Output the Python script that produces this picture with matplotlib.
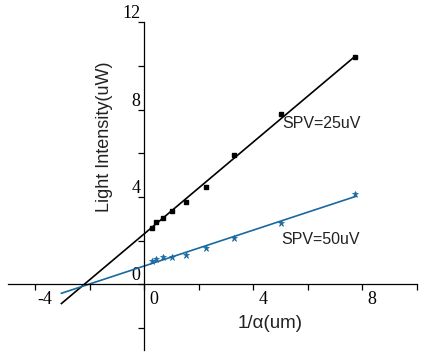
import numpy as np
import matplotlib.pyplot as plt
import matplotlib.transforms as mtransforms

plt.rcParams['axes.unicode_minus'] = False

# data
inv_alpha = [0.28, 0.44, 0.71, 1.04, 1.53, 2.26, 3.31, 5.02, 7.74]
light_25 = [2.56, 2.85, 3.05, 3.35, 3.75, 4.44, 5.92, 7.79, 10.42]
light_50 = [1.07, 1.14, 1.23, 1.23, 1.36, 1.66, 2.13, 2.79, 4.13]

# fitted lines (endpoints)
fit_x = [-3.03, 7.76]
fit_25 = [-0.88, 10.45]
fit_50 = [-0.41, 4.02]

xticks = [-4, -2, 0, 2, 4, 6, 8, 10]
xtick_labels = ['-4', '', '0', '', '4', '', '8', '']
yticks = [-2, 0, 2, 4, 6, 8, 10, 12]
ytick_labels = ['', '0', '', '4', '', '8', '', '12']

blue = '#19699f'

fig = plt.figure(figsize=(4.26, 3.55), dpi=100)
ax = fig.add_axes([0.0182, 0.0145, 0.9595, 0.9232])

ax.plot(fit_x, fit_25, color='black', lw=1.2)
ax.plot(inv_alpha, light_25, 's', color='black', ms=3.5)
ax.plot(fit_x, fit_50, color=blue, lw=1.2)
ax.plot(inv_alpha, light_50, '*', color=blue, ms=4.5, mew=0.5)

ax.set_xlim(-5, 10)
ax.set_ylim(-3, 12)

ax.spines['left'].set_position(('data', 0))
ax.spines['bottom'].set_position(('data', 0))
ax.spines['top'].set_visible(False)
ax.spines['right'].set_visible(False)
ax.spines['left'].set_linewidth(0.9)
ax.spines['bottom'].set_linewidth(0.9)

ax.set_xticks(xticks)
ax.set_xticklabels(xtick_labels, fontfamily='Liberation Serif', fontsize=13)
ax.set_yticks(yticks)
ax.set_yticklabels(ytick_labels, fontfamily='Liberation Serif', fontsize=13)
ax.tick_params(axis='x', direction='out', length=4, width=0.9, pad=1)
ax.tick_params(axis='y', direction='out', length=4, width=0.9, pad=2)

# shift tick labels like the original (x labels right of tick, y labels above tick)
dx = mtransforms.ScaledTranslation(10 / 100, 0, fig.dpi_scale_trans)
dy = mtransforms.ScaledTranslation(5 / 100, 0, fig.dpi_scale_trans)
for t in ax.xaxis.get_major_ticks():
    t.label1.set_transform(t.label1.get_transform() + dx)
for t in ax.yaxis.get_major_ticks():
    t.label1.set_verticalalignment('bottom')
    t.label1.set_transform(t.label1.get_transform() + dy)

ax.set_ylabel('Light Intensity(uW)', fontfamily='Liberation Sans', fontsize=13, color='#222222')
ax.yaxis.set_label_coords(0.2355, 0.649)
ax.yaxis.label.set_va('center')
ax.set_xlabel('1/\u03b1(um)', fontfamily='Liberation Sans', fontsize=13.5, color='#222222')
ax.xaxis.set_label_coords(0.6416, 0.0819)
ax.xaxis.label.set_va('center')

ax.text(5.06, 7.38, 'SPV=25uV', fontfamily='Liberation Sans', fontsize=11.5,
        color='#222222', va='center', ha='left')
ax.text(5.04, 2.03, 'SPV=50uV', fontfamily='Liberation Sans', fontsize=11.5,
        color='#222222', va='center', ha='left')

fig.savefig('out.png', dpi=100)
